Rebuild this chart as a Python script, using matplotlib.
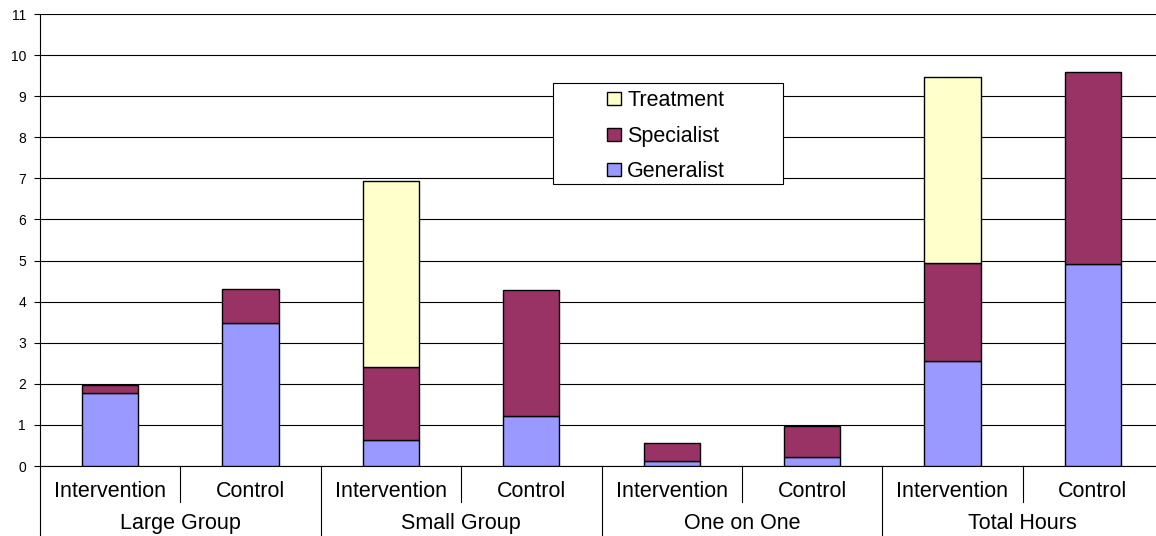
import numpy as np
import matplotlib.pyplot as plt
from matplotlib.patches import Rectangle

plt.rcParams['font.family'] = ['Liberation Sans', 'DejaVu Sans']

groups = ['Large Group', 'Small Group', 'One on One', 'Total Hours']
arms = ['Intervention', 'Control']
generalist = [1.78, 3.48, 0.63, 1.22, 0.12, 0.22, 2.55, 4.91]
specialist = [0.19, 0.83, 1.78, 3.06, 0.44, 0.75, 2.39, 4.68]
treatment = [0.0, 0.0, 4.52, 0.0, 0.0, 0.0, 4.52, 0.0]

col_gen = '#9999FF'
col_spec = '#993366'
col_treat = '#FFFFCC'

fig = plt.figure(figsize=(11.56, 5.36), dpi=100)
ax = fig.add_axes([40 / 1156, 70 / 536, 1123 / 1156, 452 / 536])

x = np.arange(len(generalist))
gen = np.array(generalist)
spec = np.array(specialist)
treat = np.array(treatment)
w = 0.4
bkw = dict(width=w, edgecolor='black', linewidth=1.0, zorder=3)
b1 = ax.bar(x, gen, color=col_gen, label='Generalist', **bkw)
b2 = ax.bar(x, spec, bottom=gen, color=col_spec, label='Specialist', **bkw)
has_t = treat > 0
b3 = ax.bar(x[has_t], treat[has_t], bottom=(gen + spec)[has_t], color=col_treat,
            label='Treatment', **bkw)

ax.set_xlim(-0.5, len(x) - 0.5)
ax.set_ylim(0, 11)
ax.set_yticks(range(0, 12))
ax.yaxis.grid(True, color='black', linewidth=0.8, zorder=0)
ax.set_axisbelow(True)
ax.tick_params(axis='y', direction='out', length=4, width=0.8, pad=6, labelsize=10)
ax.tick_params(axis='x', bottom=False, labelbottom=False)
for s in ['top', 'right']:
    ax.spines[s].set_visible(False)
ax.spines['left'].set_linewidth(0.8)
ax.spines['bottom'].set_linewidth(0.8)

# hierarchical category labels
tr = ax.get_xaxis_transform()
for i in x:
    ax.text(i, -0.056, arms[i % 2], transform=tr, ha='center', va='center', fontsize=15.5)
for g, name in enumerate(groups):
    ax.text(2 * g + 0.5, -0.128, name, transform=tr, ha='center', va='center', fontsize=15.5)
for i in range(1, len(x)):
    y_end = -0.08 if i % 2 else -0.16
    ax.plot([i - 0.5, i - 0.5], [0, y_end], transform=tr, color='black',
            linewidth=0.8, clip_on=False)
ax.plot([-0.5, -0.5], [0, -0.16], transform=tr, color='black', linewidth=0.8, clip_on=False)

# legend box
ax.add_patch(Rectangle((0.457, 0.624), 0.2045, 0.223, transform=ax.transAxes,
                       facecolor='white', edgecolor='black', linewidth=0.8, zorder=4))
leg = ax.legend([b3, b2, b1], ['Treatment', 'Specialist', 'Generalist'],
                loc='center', bbox_to_anchor=(0.5575, 0.7295), frameon=False,
                fontsize=15.5, handlelength=0.65, handleheight=0.55, handletextpad=0.3,
                labelspacing=0.68, borderpad=0)
leg.set_zorder(5)

fig.savefig('out.png', dpi=100)
